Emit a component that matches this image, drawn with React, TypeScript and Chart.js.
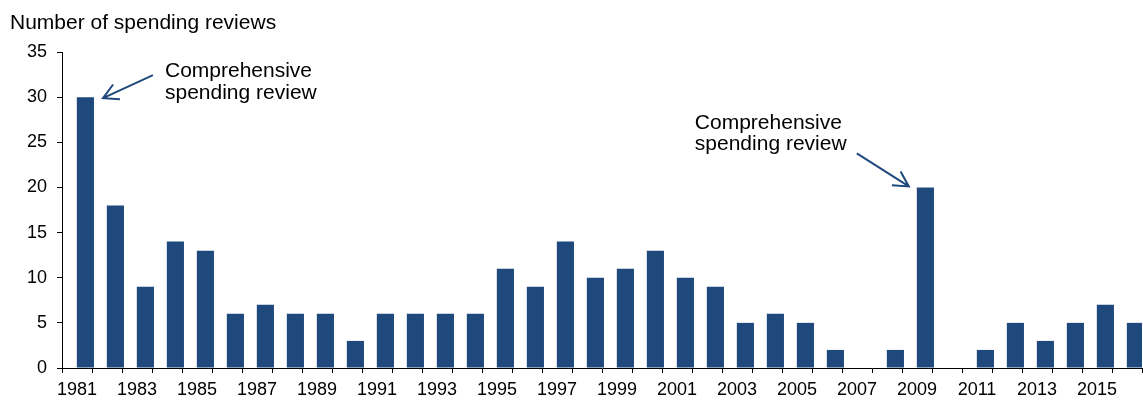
import React, { useEffect, useRef } from "react";
import { Chart, registerables } from "chart.js";

Chart.register(...registerables);

const years: string[] = [
  "1981", "1982", "1983", "1984", "1985", "1986", "1987", "1988", "1989", "1990",
  "1991", "1992", "1993", "1994", "1995", "1996", "1997", "1998", "1999", "2000",
  "2001", "2002", "2003", "2004", "2005", "2006", "2007", "2008", "2009", "2010",
  "2011", "2012", "2013", "2014", "2015", "2016",
];
const reviews: number[] = [
  30, 18, 9, 14, 13, 6, 7, 6, 6, 3,
  6, 6, 6, 6, 11, 9, 14, 10, 11, 13,
  10, 9, 5, 6, 5, 2, 0, 2, 20, 0,
  2, 5, 3, 5, 7, 5,
];
const yMin = 0;
const yMax = 35;
const yStep = 5;
const titleText = "Number of spending reviews";
const annotationLines: string[] = ["Comprehensive", "spending review"];
const annotatedYears: string[] = ["1981", "2009"];

const BAR_COLOR = "#1F497D";
const FONT = "'Liberation Sans', Arial, sans-serif";

function drawArrow(ctx: CanvasRenderingContext2D, x0: number, y0: number, x1: number, y1: number) {
  const ang = Math.atan2(y1 - y0, x1 - x0);
  const head = 17;
  const spread = 0.5;
  ctx.beginPath();
  ctx.moveTo(x0, y0);
  ctx.lineTo(x1, y1);
  ctx.moveTo(x1 - head * Math.cos(ang - spread), y1 - head * Math.sin(ang - spread));
  ctx.lineTo(x1, y1);
  ctx.lineTo(x1 - head * Math.cos(ang + spread), y1 - head * Math.sin(ang + spread));
  ctx.stroke();
}

const overlayPlugin = {
  id: "overlay",
  afterDraw(chart: any) {
    const ctx: CanvasRenderingContext2D = chart.ctx;
    ctx.save();
    ctx.fillStyle = "#000";
    ctx.font = `21px ${FONT}`;
    ctx.textBaseline = "alphabetic";
    ctx.textAlign = "left";
    ctx.fillText(titleText, 10, 29);

    const meta = chart.getDatasetMeta(1);
    ctx.strokeStyle = BAR_COLOR;
    ctx.lineWidth = 2;
    ctx.lineCap = "butt";
    ctx.lineJoin = "miter";

    const i1 = years.indexOf(annotatedYears[0]);
    const b1 = meta.data[i1];
    if (b1) {
      const tipX = b1.x + b1.width / 2 + 9;
      const tipY = b1.y + 1;
      drawArrow(ctx, tipX + 50, tipY - 23, tipX, tipY);
      ctx.fillStyle = "#000";
      ctx.fillText(annotationLines[0], tipX + 62, tipY - 21);
      ctx.fillText(annotationLines[1], tipX + 62, tipY + 0.5);
    }
    const i2 = years.indexOf(annotatedYears[1]);
    const b2 = meta.data[i2];
    if (b2) {
      const tipX = b2.x - b2.width / 2 - 8;
      const tipY = b2.y - 1;
      drawArrow(ctx, tipX - 52, tipY - 33, tipX, tipY);
      ctx.fillStyle = "#000";
      ctx.fillText(annotationLines[0], tipX - 214, tipY - 57);
      ctx.fillText(annotationLines[1], tipX - 214, tipY - 36);
    }
    ctx.restore();
  },
};

export default function App() {
  const ref = useRef<HTMLCanvasElement | null>(null);
  useEffect(() => {
    if (!ref.current) return;
    const chart = new Chart(ref.current, {
      type: "bar",
      data: {
        labels: years,
        datasets: [
          { label: "spacer", data: [], backgroundColor: "rgba(0,0,0,0)" },
          {
            label: "Number of spending reviews",
            data: reviews,
            backgroundColor: BAR_COLOR,
            borderWidth: 0,
            categoryPercentage: 1.12,
            barPercentage: 1.02,
          } as any,
        ],
      },
      options: {
        animation: false,
        responsive: true,
        maintainAspectRatio: false,
        layout: { padding: { top: 52, left: 0, right: 1, bottom: 0 } },
        plugins: {
          legend: { display: false },
          title: { display: false },
          tooltip: { enabled: false },
        },
        datasets: { bar: { categoryPercentage: 1.12, barPercentage: 1.02 } } as any,
        scales: {
          x: {
            offset: true,
            grid: {
              display: true,
              offset: true,
              drawOnChartArea: false,
              drawTicks: true,
              tickLength: 5,
              color: "#000",
              lineWidth: 1,
            },
            border: { display: true, color: "#000", width: 1 },
            ticks: {
              autoSkip: false,
              maxRotation: 0,
              minRotation: 0,
              padding: 6,
              color: "#000",
              font: { family: FONT, size: 18 },
              callback: (_v: any, i: number) => (i % 2 === 0 ? years[i] : ""),
            },
            afterFit: (s: any) => {
              s.height = 32;
            },
          },
          y: {
            min: yMin,
            max: yMax,
            grid: {
              display: true,
              drawOnChartArea: false,
              drawTicks: true,
              tickLength: 5,
              color: "#000",
              lineWidth: 1,
            },
            border: { display: true, color: "#000", width: 1 },
            ticks: {
              stepSize: yStep,
              padding: 10,
              color: "#000",
              font: { family: FONT, size: 18 },
            },
            afterFit: (s: any) => {
              s.width = 62;
            },
          },
        },
      },
      plugins: [overlayPlugin],
    });
    return () => chart.destroy();
  }, []);

  return (
    <div style={{ position: "absolute", left: 0, top: 0, width: 1143, height: 400, background: "#fff" }}>
      <canvas ref={ref} />
    </div>
  );
}
